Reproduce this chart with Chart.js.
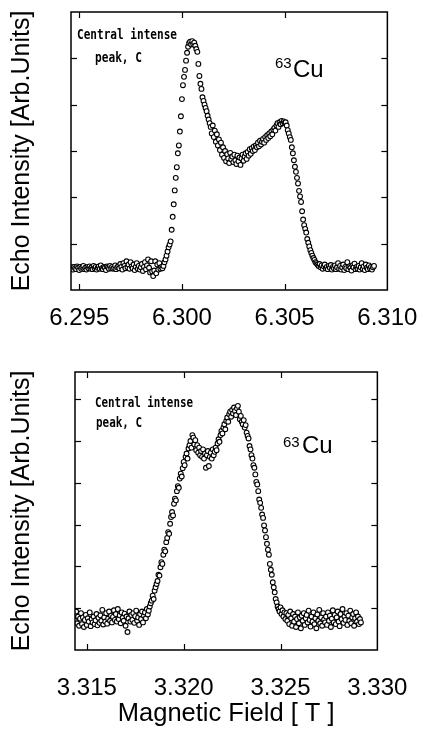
<!DOCTYPE html>
<html>
<head>
<meta charset="utf-8">
<title>63Cu echo spectra</title>
<script src="https://cdn.jsdelivr.net/npm/chart.js@4.4.1/dist/chart.umd.min.js"></script>
<style>
  body { margin: 0; background: #fff; }
  canvas { position: absolute; left: 0; }
  #top-chart { top: 0; }
  #bottom-chart { top: 330px; }
</style>
</head>
<body>
<canvas id="top-chart" width="423" height="330"></canvas>
<canvas id="bottom-chart" width="423" height="403"></canvas>
<script>
// Upper spectrum: field [T] and echo intensity [arb. units]
const topFields = [
  6.29460,6.29465,6.29470,6.29475,6.29480,6.29485,6.29490,6.29495,6.29500,6.29505,6.29510,6.29515,6.29520,6.29525,6.29530,6.29535,6.29540,6.29545,6.29550,6.29555,
  6.29560,6.29565,6.29570,6.29575,6.29580,6.29585,6.29590,6.29595,6.29600,6.29605,6.29610,6.29615,6.29620,6.29625,6.29630,6.29635,6.29640,6.29645,6.29650,6.29655,
  6.29660,6.29665,6.29670,6.29675,6.29680,6.29685,6.29690,6.29695,6.29700,6.29705,6.29710,6.29715,6.29720,6.29725,6.29730,6.29735,6.29740,6.29745,6.29750,6.29755,
  6.29760,6.29765,6.29770,6.29775,6.29780,6.29785,6.29790,6.29795,6.29800,6.29805,6.29810,6.29815,6.29820,6.29825,6.29830,6.29835,6.29840,6.29845,6.29850,6.29855,
  6.29860,6.29865,6.29870,6.29875,6.29880,6.29885,6.29890,6.29895,6.29900,6.29905,6.29910,6.29915,6.29920,6.29925,6.29930,6.29935,6.29940,6.29945,6.29950,6.29955,
  6.29960,6.29965,6.29970,6.29975,6.29980,6.29985,6.29990,6.29995,6.30000,6.30005,6.30010,6.30015,6.30020,6.30025,6.30030,6.30035,6.30040,6.30045,6.30050,6.30055,
  6.30060,6.30065,6.30070,6.30075,6.30080,6.30085,6.30090,6.30095,6.30100,6.30105,6.30110,6.30115,6.30120,6.30125,6.30130,6.30135,6.30140,6.30145,6.30150,6.30155,
  6.30160,6.30165,6.30170,6.30175,6.30180,6.30185,6.30190,6.30195,6.30200,6.30205,6.30210,6.30215,6.30220,6.30225,6.30230,6.30235,6.30240,6.30245,6.30250,6.30255,
  6.30260,6.30265,6.30270,6.30275,6.30280,6.30285,6.30290,6.30295,6.30300,6.30305,6.30310,6.30315,6.30320,6.30325,6.30330,6.30335,6.30340,6.30345,6.30350,6.30355,
  6.30360,6.30365,6.30370,6.30375,6.30380,6.30385,6.30390,6.30395,6.30400,6.30405,6.30410,6.30415,6.30420,6.30425,6.30430,6.30435,6.30440,6.30445,6.30450,6.30455,
  6.30460,6.30465,6.30470,6.30475,6.30480,6.30485,6.30490,6.30495,6.30500,6.30505,6.30510,6.30515,6.30520,6.30525,6.30530,6.30535,6.30540,6.30545,6.30550,6.30555,
  6.30560,6.30565,6.30570,6.30575,6.30580,6.30585,6.30590,6.30595,6.30600,6.30605,6.30610,6.30615,6.30620,6.30625,6.30630,6.30635,6.30640,6.30645,6.30650,6.30655,
  6.30660,6.30665,6.30670,6.30675,6.30680,6.30685,6.30690,6.30695,6.30700,6.30705,6.30710,6.30715,6.30720,6.30725,6.30730,6.30735,6.30740,6.30745,6.30750,6.30755,
  6.30760,6.30765,6.30770,6.30775,6.30780,6.30785,6.30790,6.30795,6.30800,6.30805,6.30810,6.30815,6.30820,6.30825,6.30830,6.30835,6.30840,6.30845,6.30850,6.30855,
  6.30860,6.30865,6.30870,6.30875,6.30880,6.30885,6.30890,6.30895,6.30900,6.30905,6.30910,6.30915,6.30920,6.30925,6.30930,6.30935
];
const topEcho = [
  0.46,0.49,0.44,0.50,0.47,0.45,0.51,0.48,0.43,0.50,0.46,0.49,0.52,0.45,0.48,0.44,0.50,0.47,0.51,0.46,
  0.49,0.45,0.52,0.47,0.50,0.44,0.48,0.51,0.46,0.53,0.47,0.45,0.50,0.48,0.43,0.51,0.49,0.46,0.52,0.47,
  0.50,0.46,0.48,0.53,0.45,0.49,0.51,0.47,0.56,0.50,0.44,0.58,0.52,0.47,0.62,0.49,0.55,0.46,0.60,0.51,
  0.47,0.55,0.43,0.50,0.58,0.46,0.52,0.44,0.49,0.56,0.41,0.50,0.60,0.45,0.53,0.66,0.48,0.38,0.62,0.40,
  0.30,0.42,0.62,0.36,0.55,0.44,0.58,0.46,0.50,0.47,0.52,0.60,0.66,0.74,0.83,0.92,0.98,1.05,1.30,1.58,
  1.85,2.15,2.42,2.65,2.95,3.12,3.42,3.75,4.12,4.42,4.60,4.75,4.95,5.12,5.25,5.33,5.36,5.30,5.37,5.31,
  5.34,5.27,5.20,5.14,4.88,4.62,4.45,4.34,4.16,4.08,4.00,3.93,3.86,3.76,3.68,3.60,3.52,3.38,3.55,3.30,
  3.44,3.20,3.36,3.12,3.25,3.02,3.18,2.92,3.08,2.85,3.00,2.78,2.93,2.84,2.74,2.96,2.82,2.88,2.76,2.92,
  2.80,2.72,2.90,2.78,2.86,2.70,2.84,2.92,2.79,2.88,2.95,2.83,2.98,2.90,3.04,2.94,3.06,3.00,3.10,3.02,
  3.12,3.08,3.18,3.10,3.22,3.14,3.20,3.26,3.18,3.30,3.24,3.34,3.28,3.38,3.32,3.42,3.36,3.46,3.50,3.44,
  3.55,3.60,3.52,3.62,3.58,3.65,3.60,3.64,3.61,3.62,3.55,3.45,3.38,3.30,3.24,3.08,2.95,2.80,2.66,2.55,
  2.42,2.30,2.14,2.02,1.90,1.70,1.52,1.40,1.32,1.24,1.10,1.02,0.94,0.86,0.80,0.74,0.69,0.65,0.60,0.58,
  0.55,0.52,0.56,0.49,0.53,0.46,0.51,0.55,0.47,0.50,0.45,0.52,0.48,0.54,0.44,0.50,0.47,0.53,0.45,0.49,
  0.58,0.46,0.52,0.44,0.49,0.55,0.43,0.50,0.47,0.60,0.45,0.51,0.48,0.42,0.53,0.49,0.57,0.45,0.50,0.46,
  0.52,0.44,0.49,0.58,0.46,0.51,0.43,0.55,0.48,0.45,0.53,0.47,0.50,0.44,0.49,0.52
];

// Lower spectrum
const bottomFields = [
  3.31435,3.31440,3.31445,3.31450,3.31455,3.31460,3.31465,3.31470,3.31475,3.31480,3.31485,3.31490,3.31495,3.31500,3.31505,3.31510,3.31515,3.31520,3.31525,3.31530,
  3.31535,3.31540,3.31545,3.31550,3.31555,3.31560,3.31565,3.31570,3.31575,3.31580,3.31585,3.31590,3.31595,3.31600,3.31605,3.31610,3.31615,3.31620,3.31625,3.31630,
  3.31635,3.31640,3.31645,3.31650,3.31655,3.31660,3.31665,3.31670,3.31675,3.31680,3.31685,3.31690,3.31695,3.31700,3.31705,3.31710,3.31715,3.31720,3.31725,3.31730,
  3.31735,3.31740,3.31745,3.31750,3.31755,3.31760,3.31765,3.31770,3.31775,3.31780,3.31785,3.31790,3.31795,3.31800,3.31805,3.31810,3.31815,3.31820,3.31825,3.31830,
  3.31835,3.31840,3.31845,3.31850,3.31855,3.31860,3.31865,3.31870,3.31875,3.31880,3.31885,3.31890,3.31895,3.31900,3.31905,3.31910,3.31915,3.31920,3.31925,3.31930,
  3.31935,3.31940,3.31945,3.31950,3.31955,3.31960,3.31965,3.31970,3.31975,3.31980,3.31985,3.31990,3.31995,3.32000,3.32005,3.32010,3.32015,3.32020,3.32025,3.32030,
  3.32035,3.32040,3.32045,3.32050,3.32055,3.32060,3.32065,3.32070,3.32075,3.32080,3.32085,3.32090,3.32095,3.32100,3.32105,3.32110,3.32115,3.32120,3.32125,3.32130,
  3.32135,3.32140,3.32145,3.32150,3.32155,3.32160,3.32165,3.32170,3.32175,3.32180,3.32185,3.32190,3.32195,3.32200,3.32205,3.32210,3.32215,3.32220,3.32225,3.32230,
  3.32235,3.32240,3.32245,3.32250,3.32255,3.32260,3.32265,3.32270,3.32275,3.32280,3.32285,3.32290,3.32295,3.32300,3.32305,3.32310,3.32315,3.32320,3.32325,3.32330,
  3.32335,3.32340,3.32345,3.32350,3.32355,3.32360,3.32365,3.32370,3.32375,3.32380,3.32385,3.32390,3.32395,3.32400,3.32405,3.32410,3.32415,3.32420,3.32425,3.32430,
  3.32435,3.32440,3.32445,3.32450,3.32455,3.32460,3.32465,3.32470,3.32475,3.32480,3.32485,3.32490,3.32495,3.32500,3.32505,3.32510,3.32515,3.32520,3.32525,3.32530,
  3.32535,3.32540,3.32545,3.32550,3.32555,3.32560,3.32565,3.32570,3.32575,3.32580,3.32585,3.32590,3.32595,3.32600,3.32605,3.32610,3.32615,3.32620,3.32625,3.32630,
  3.32635,3.32640,3.32645,3.32650,3.32655,3.32660,3.32665,3.32670,3.32675,3.32680,3.32685,3.32690,3.32695,3.32700,3.32705,3.32710,3.32715,3.32720,3.32725,3.32730,
  3.32735,3.32740,3.32745,3.32750,3.32755,3.32760,3.32765,3.32770,3.32775,3.32780,3.32785,3.32790,3.32795,3.32800,3.32805,3.32810,3.32815,3.32820,3.32825,3.32830,
  3.32835,3.32840,3.32845,3.32850,3.32855,3.32860,3.32865,3.32870,3.32875,3.32880,3.32885,3.32890,3.32895,3.32900,3.32905,3.32910,3.32915
];
const bottomEcho = [
  0.85,0.70,0.92,0.64,0.80,0.58,0.75,0.88,0.62,0.78,0.55,0.72,0.84,0.60,0.76,0.68,0.90,0.57,0.74,0.66,
  0.80,0.62,0.71,0.86,0.59,0.77,0.65,0.83,0.70,0.96,0.61,0.78,0.68,0.88,0.63,0.75,0.92,0.70,0.82,0.66,
  0.79,0.95,0.72,0.86,0.68,0.98,0.74,0.83,0.64,0.90,0.77,0.70,0.87,0.58,0.80,0.43,0.76,0.92,0.68,0.84,
  0.72,0.88,0.65,0.81,0.94,0.70,0.78,0.60,0.86,0.74,0.92,0.66,0.82,0.90,0.76,0.98,0.85,0.94,1.04,1.12,
  1.18,1.30,1.22,1.42,1.50,1.58,1.65,1.80,1.78,1.98,2.10,2.06,2.28,2.40,2.36,2.58,2.68,2.82,2.78,3.02,
  3.18,3.30,3.22,3.50,3.62,3.58,3.80,3.92,3.88,4.10,4.22,4.15,4.35,4.50,4.42,4.62,4.70,4.58,4.82,4.90,
  5.00,4.84,5.14,5.08,4.92,5.02,4.78,4.90,4.72,4.84,4.66,4.76,4.62,4.80,4.58,4.70,4.36,4.66,4.76,4.40,
  4.62,4.72,4.58,4.80,4.66,4.74,4.84,4.78,4.94,5.04,4.98,5.14,5.24,5.18,5.32,5.40,5.28,5.48,5.56,5.46,
  5.64,5.70,5.58,5.74,5.66,5.80,5.72,5.62,5.78,5.84,5.70,5.52,5.60,5.46,5.40,5.50,5.32,5.38,5.20,5.12,
  5.06,4.88,4.80,4.66,4.58,4.42,4.36,4.20,4.02,3.96,3.80,3.60,3.52,3.40,3.24,3.16,2.98,2.86,2.70,2.54,
  2.40,2.28,2.06,1.92,1.80,1.62,1.50,1.38,1.22,1.14,1.04,0.98,0.92,1.02,0.86,0.95,0.80,0.90,0.74,0.88,
  0.70,0.84,0.62,0.92,0.76,0.58,0.86,0.68,0.80,0.55,0.74,0.90,0.64,0.78,0.52,0.82,0.70,0.88,0.60,0.76,
  0.84,0.66,0.94,0.72,0.56,0.80,0.68,0.90,0.62,0.76,0.52,0.85,0.70,0.96,0.64,0.78,0.58,0.88,0.73,0.66,
  0.80,0.60,0.90,0.70,0.82,0.55,0.75,0.95,0.66,0.84,0.62,0.78,0.92,0.68,0.57,0.86,0.74,0.98,0.65,0.80,
  0.72,0.88,0.60,0.82,0.70,0.94,0.64,0.78,0.86,0.58,0.76,0.90,0.68,0.80,0.62,0.74,0.66
];

// Tick positions
const topFieldTicks = [6.295, 6.300, 6.305, 6.310];
const bottomFieldTicks = [3.315, 3.320, 3.325, 3.330];
const topEchoTicks = [1, 2, 3, 4, 5];
const bottomEchoTicks = [1, 2, 3, 4, 5, 6];

const SANS = '"Liberation Sans", Arial, Helvetica, sans-serif';
Chart.defaults.font.family = SANS;
Chart.defaults.color = '#000';

function line(ctx, x1, y1, x2, y2) {
  ctx.beginPath();
  ctx.moveTo(x1, y1);
  ctx.lineTo(x2, y2);
  ctx.stroke();
}

// Frame box and inward tick marks on all four sides
const frameTicks = {
  id: 'frameTicks',
  afterDatasetsDraw(chart) {
    const { ctx, chartArea: a, scales: { x, y } } = chart;
    ctx.save();
    ctx.strokeStyle = '#000';
    ctx.lineWidth = 1.2;
    x.ticks.forEach(t => {
      const px = Math.round(x.getPixelForValue(t.value)) + 0.5;
      if (px <= a.left + 2 || px >= a.right - 2) return;
      line(ctx, px, a.bottom, px, a.bottom - 6);
      line(ctx, px, a.top, px, a.top + 6);
    });
    y.ticks.forEach(t => {
      const py = Math.round(y.getPixelForValue(t.value)) + 0.5;
      if (py <= a.top + 2 || py >= a.bottom - 2) return;
      line(ctx, a.left, py, a.left + 6, py);
      line(ctx, a.right, py, a.right - 6, py);
    });
    ctx.lineWidth = 1.5;
    ctx.strokeRect(a.left, a.top, a.right - a.left, a.bottom - a.top);
    ctx.restore();
  }
};

// Free text inside the frame
const notes = {
  id: 'notes',
  afterDraw(chart, args, opts) {
    const ctx = chart.ctx;
    ctx.save();
    ctx.fillStyle = '#000';
    ctx.textBaseline = 'alphabetic';
    (opts.items || []).forEach(n => {
      ctx.font = n.font;
      if (n.maxWidth) ctx.fillText(n.text, n.x, n.y, n.maxWidth);
      else ctx.fillText(n.text, n.x, n.y);
    });
    ctx.restore();
  }
};

function makeChart(id, cfg) {
  const data = cfg.fields.map((f, i) => ({ x: f, y: cfg.echo[i] }));
  return new Chart(document.getElementById(id), {
    type: 'scatter',
    data: {
      datasets: [{
        data: data,
        pointRadius: 2.4,
        pointBorderWidth: 1.1,
        borderColor: '#000',
        backgroundColor: '#fff'
      }]
    },
    options: {
      responsive: false,
      animation: false,
      layout: { padding: { left: 0, right: cfg.padRight, top: cfg.padTop, bottom: 0 } },
      scales: {
        x: {
          type: 'linear',
          min: cfg.xMin,
          max: cfg.xMax,
          grid: { display: false },
          border: { display: false },
          afterBuildTicks: s => { s.ticks = cfg.xTicks.map(v => ({ value: v })); },
          afterFit: s => { s.height = cfg.xHeight; },
          ticks: {
            padding: cfg.tickPad,
            maxRotation: 0,
            font: { size: 24 },
            callback: v => Number(v).toFixed(3)
          },
          title: {
            display: cfg.showXTitle,
            text: 'Magnetic Field [ T ]',
            font: { size: 25.5 },
            padding: { top: 0, bottom: 3.7 }
          }
        },
        y: {
          min: 0,
          max: cfg.yMax,
          grid: { display: false },
          border: { display: false },
          afterBuildTicks: s => { s.ticks = cfg.yTicks.map(v => ({ value: v })); },
          afterFit: s => { s.width = cfg.yWidth; },
          ticks: { display: false },
          title: {
            display: true,
            text: 'Echo Intensity [Arb.Units]',
            font: { size: 25 },
            padding: { top: 7, bottom: 0 }
          }
        }
      },
      plugins: {
        legend: { display: false },
        tooltip: { enabled: false },
        notes: { items: cfg.notes }
      }
    },
    plugins: [frameTicks, notes]
  });
}

const MONO = 'bold 14px "DejaVu Sans Mono", monospace';

makeChart('top-chart', {
  fields: topFields, echo: topEcho,
  xMin: 6.2946, xMax: 6.310, xTicks: topFieldTicks,
  yMax: 6, yTicks: topEchoTicks,
  padTop: 12, padRight: 35, yWidth: 71, xHeight: 40, tickPad: 5.6,
  showXTitle: false,
  notes: [
    { text: 'Central intense', x: 77, y: 39, font: MONO, maxWidth: 100 },
    { text: 'peak, C', x: 95, y: 62, font: MONO, maxWidth: 47 },
    { text: '63', x: 275, y: 68, font: '15px ' + SANS },
    { text: 'Cu', x: 293, y: 77, font: '24px ' + SANS }
  ]
});

makeChart('bottom-chart', {
  fields: bottomFields, echo: bottomEcho,
  xMin: 3.31439, xMax: 3.330, xTicks: bottomFieldTicks,
  yMax: 6.65, yTicks: bottomEchoTicks,
  padTop: 42, padRight: 31, yWidth: 75, xHeight: 83, tickPad: 15.6,
  showXTitle: true,
  notes: [
    { text: 'Central intense', x: 95, y: 77, font: MONO, maxWidth: 98 },
    { text: 'peak, C', x: 96, y: 97, font: MONO, maxWidth: 46 },
    { text: '63', x: 283, y: 117, font: '15px ' + SANS },
    { text: 'Cu', x: 302, y: 123, font: '24px ' + SANS }
  ]
});
</script>
</body>
</html>
